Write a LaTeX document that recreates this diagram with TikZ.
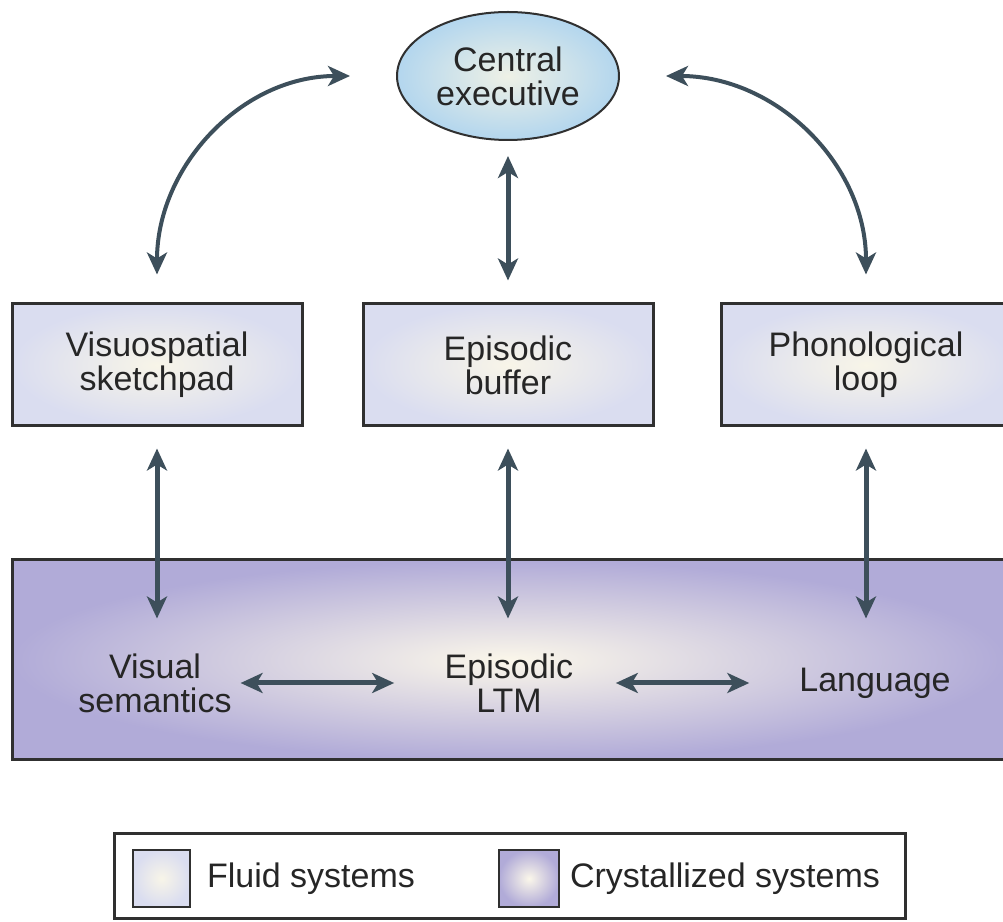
\documentclass[tikz,border=0pt]{standalone}
\usepackage{fontspec}
\setmainfont{Liberation Sans}
\usetikzlibrary{arrows.meta,shapes.geometric}
\definecolor{arrowgray}{HTML}{3D4F5B}
\definecolor{edgegray}{HTML}{303030}
\definecolor{textgray}{HTML}{262626}
\definecolor{fluidout}{HTML}{DADDF0}
\definecolor{fluidin}{HTML}{F8F5E8}
\definecolor{crystout}{HTML}{B1ABD8}
\definecolor{crystin}{HTML}{FBF7EA}
\definecolor{execout}{HTML}{B3D6EE}
\definecolor{execin}{HTML}{EEF1E6}
\tikzset{
  fluid/.style={draw=edgegray, line width=1.5pt, inner color=fluidin, outer color=fluidout,
    minimum width=145pt, minimum height=61pt, align=center},
  crystal/.style={draw=edgegray, line width=1.5pt, inner color=crystin, outer color=crystout},
  link/.style={draw=arrowgray, line width=2.5pt,
    {Stealth[length=11pt,width=10pt,inset=3pt]}-{Stealth[length=11pt,width=10pt,inset=3pt]}},
  txt/.style={align=center, text=textgray}
}
\begin{document}
\begin{tikzpicture}[x=0.5pt, y=0.5pt, font=\fontsize{17}{17}\selectfont, text=textgray]
\useasboundingbox (0,0) rectangle (1003,922);
\clip (0,0) rectangle (1003,922);
% working memory
\node[ellipse, draw=edgegray, line width=1pt, inner color=execin, outer color=execout,
  minimum width=110pt, minimum height=64pt, align=center] (exec) at (508,846) {Central\\executive};
\node[fluid] (vss) at (157,557) {Visuospatial\\sketchpad};
\node[fluid] (buf) at (508,557) {Episodic\\buffer};
\node[fluid] (phon) at (866,557) {Phonological\\loop};
% long-term memory
\node[crystal, minimum width=497pt, minimum height=100pt] (ltm) at (509,262) {};
\node[txt] (vsem) at (155,239) {Visual\\semantics};
\node[txt] (eltm) at (509,239) {Episodic\\LTM};
\node[txt] (lang) at (875,239) {Language};
% connections
\draw[link, line width=2pt] ([xshift=-23pt]exec.west) to[out=180, in=90] ([yshift=14pt]vss.north);
\draw[link, line width=2pt] ([xshift=23pt]exec.east) to[out=0, in=90] ([yshift=14pt]phon.north);
\draw[link, shorten <=7.5pt, shorten >=11pt] (exec) -- (buf);
\foreach \n in {vss,buf,phon}
  \draw[link, shorten <=10.5pt] (\n.south) -- ++(0,-191);
\draw[link, shorten <=1pt, shorten >=21.75pt] (vsem) -- (eltm);
\draw[link, shorten <=17.75pt, shorten >=21.5pt] (eltm) -- (lang);
% key
\node[draw=edgegray, line width=1.5pt, minimum width=395.5pt, minimum height=42.5pt] (key) at (509.5,46) {};
\node[fluid, line width=1pt, minimum width=28.5pt, minimum height=28.5pt] (fluidkey) at (161.5,43.5) {};
\node[crystal, line width=1pt, minimum width=30pt, minimum height=28.5pt] (crystkey) at (529,43.5) {};
\node[anchor=west] (fluidtxt) at (200,43) {Fluid systems};
\node[anchor=west] (crysttxt) at (563,43) {Crystallized systems};
\end{tikzpicture}
\end{document}
